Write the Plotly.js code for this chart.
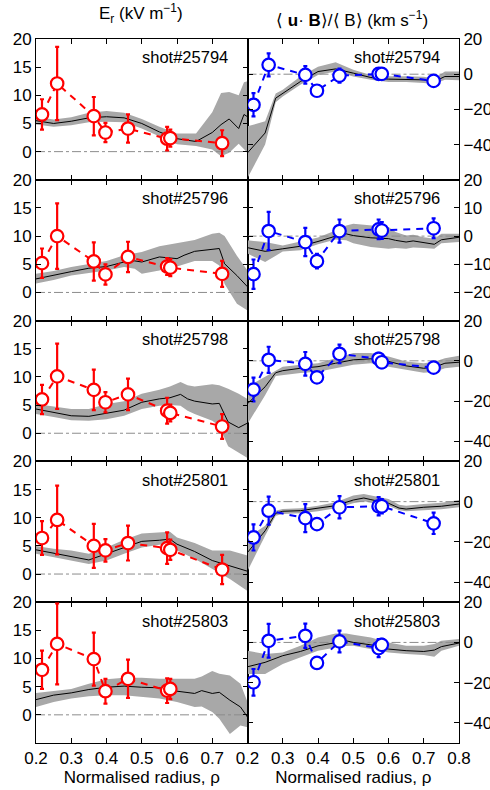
<!DOCTYPE html>
<html><head><meta charset="utf-8">
<script src="https://cdn.plot.ly/plotly-3.0.1.min.js"></script>
<style>html,body{margin:0;padding:0;background:#fff}</style>
</head><body><div id="chart" style="width:490px;height:790px"></div>
<script>
// ---- data ----
const shots = ['shot#25794','shot#25796','shot#25798','shot#25801','shot#25803'];
const pointX = [0.217, 0.26, 0.364, 0.397, 0.461, 0.572, 0.581, 0.728];

// Er measured points (kV/m)
const E1y = [6.6,12.1,6.3,3.4,4.1,2.3,2.4,1.5], E1e = [2.7,6.5,3.4,1.7,2.5,2.1,1.5,2.3];
const E2y = [5.2,10.0,5.5,3.2,6.3,4.6,4.4,3.3], E2e = [2.6,5.8,3.4,1.8,2.7,1.5,1.5,2.3];
const E3y = [6.0,10.1,7.7,5.5,6.9,4.0,3.6,1.2], E3e = [2.6,5.8,3.6,1.8,2.8,2.3,1.5,2.2];
const E4y = [6.4,9.6,5.0,4.2,5.5,4.6,4.3,0.8],  E4e = [3.0,6.1,3.9,2.0,3.1,2.8,1.8,2.6];
const E5y = [8.0,12.6,9.9,4.2,6.4,4.3,4.6],     E5e = [3.4,7.2,4.7,2.2,3.4,2.2,1.8];

// <u.B>/<B> measured points (km/s)
const U1y = [-17.4,5.3,-0.4,-9.4,-0.8,0.2,0.2,-3.8],   U1e = [6.6,6.5,5,2.5,4,3,3,3];
const U2y = [-13.5,1.8,-2.1,-8.9,1.8,2.4,2.0,2.8],     U2e = [5.2,6.8,5,2.6,4.1,3.5,3,3.5];
const U3y = [-14.3,0.5,-1.5,-8.2,3.5,1.0,-0.7,-3.4],   U3e = [5.9,6.5,5.9,2,4.6,3,3,2.5];
const U4y = [-17.8,-4.5,-8.2,-11.2,-2.8,-2.3,-2.3,-10.8], U4e = [6.5,7,7,2.5,5.5,4.5,3.5,5.3];
const U5y = [-19.8,0.8,3.3,-10.2,0.5,-2.8,-1.2],       U5e = [6.6,8.4,6,2.5,5.4,4.5,3];

// Er profiles: radius, mean, band low, band high
const E1x = [0.20,0.25,0.30,0.35,0.40,0.45,0.50,0.55,0.60,0.654,0.70,0.725,0.748,0.775,0.79,0.80];
const E1m = [5.5,5.0,5.4,6.0,6.2,6.0,5.0,3.5,2.3,1.8,3.4,4.8,5.8,4.1,6.6,6.2];
const E1lo = [4.8,4.4,4.7,5.2,5.3,5.2,4.1,2.7,1.3,1.0,0.4,-0.8,-0.2,1.4,0.5,-0.2];
const E1hi = [6.2,5.7,6.1,6.9,7.2,6.9,5.8,4.4,3.2,3.2,7.0,10.4,10.6,10.0,12.3,12.5];

const E2x = [0.20,0.25,0.30,0.35,0.40,0.45,0.48,0.50,0.55,0.60,0.62,0.65,0.70,0.72,0.735,0.77,0.80];
const E2m = [2.4,3.1,3.7,4.3,4.6,5.4,5.6,5.4,6.3,6.0,6.6,7.3,7.6,7.8,5.1,3.0,1.0];
const E2lo = [1.6,2.2,3.0,3.4,3.9,4.5,4.2,3.3,3.9,4.6,5.0,5.6,5.6,4.8,1.5,-2.0,-3.2];
const E2hi = [3.3,3.8,4.5,5.0,5.6,6.6,7.0,7.2,8.2,8.7,9.0,9.3,10.4,10.6,10.0,6.5,3.9];

const E3x = [0.20,0.25,0.30,0.35,0.40,0.45,0.50,0.55,0.58,0.61,0.63,0.65,0.70,0.72,0.745,0.775,0.80];
const E3m = [4.3,3.7,3.1,3.0,3.6,4.1,5.5,6.1,6.3,6.9,6.1,5.7,5.2,5.3,2.0,1.0,1.8];
const E3lo = [3.4,2.9,2.3,2.2,2.5,3.1,4.3,4.9,5.0,4.9,4.0,3.4,2.2,1.3,-2.3,-3.5,-4.4];
const E3hi = [5.2,4.7,4.3,4.3,5.2,5.7,7.0,7.7,8.3,9.1,8.5,8.3,8.7,8.5,7.9,7.0,6.1];

const E4x = [0.20,0.25,0.30,0.35,0.40,0.45,0.50,0.55,0.58,0.60,0.65,0.70,0.75,0.80];
const E4m = [4.3,3.7,3.1,2.5,3.6,4.7,5.8,6.0,6.2,5.3,4.0,2.4,1.5,0.5];
const E4lo = [3.6,3.0,2.4,1.8,2.4,3.6,4.7,5.2,5.4,4.2,2.7,0.9,-0.9,-3.0];
const E4hi = [5.0,4.5,4.2,3.6,4.7,6.1,7.2,7.4,7.5,6.5,5.5,4.2,4.2,3.3];

const E5x = [0.20,0.25,0.30,0.35,0.40,0.45,0.50,0.55,0.60,0.65,0.67,0.70,0.72,0.75,0.78,0.80];
const E5m = [2.7,3.5,3.9,4.5,4.9,5.1,4.9,4.8,4.2,3.8,4.3,3.8,4.0,2.6,1.4,-0.4];
const E5lo = [1.4,2.3,2.9,3.3,3.5,3.5,3.2,2.9,2.3,1.4,1.5,0.5,-0.7,-3.4,-1.9,-2.2];
const E5hi = [3.9,4.3,4.6,5.5,6.3,6.6,6.6,6.4,6.4,6.4,6.8,7.8,7.3,7.0,5.5,2.3];

// <u.B>/<B> profiles
const U1x = [0.20,0.25,0.28,0.30,0.35,0.40,0.45,0.50,0.55,0.60,0.65,0.70,0.73,0.76,0.80];
const U1m = [-44.7,-33.4,-13.6,-10.8,-4.2,1.5,3.0,0.6,-1.9,-2.8,-2.8,-3.2,-4.2,-1.3,-1.3];
const U1lo = [-59,-40,-16,-12.6,-6,-0.4,1.5,-1.3,-3.2,-4.5,-4.5,-5,-5.5,-3.2,-3.5];
const U1hi = [-29.6,-26.8,-11,-8.9,-1.3,4.3,6.8,2.5,-0.4,-1.2,-1.2,-1.5,-2.5,1.5,1.5];

const U2x = [0.20,0.25,0.30,0.35,0.40,0.45,0.48,0.50,0.55,0.60,0.62,0.65,0.67,0.70,0.73,0.75,0.80];
const U2m = [-4.1,-5.4,-4.5,-3.6,-1.9,0.0,0.8,0.2,-0.6,-0.9,-1.5,-2.1,-1.7,-2.4,-2.9,-1.3,-0.4];
const U2lo = [-6.2,-9.2,-5.5,-5.0,-2.9,-1.2,-1.5,-2.5,-3.9,-4.5,-4.2,-4.5,-4.0,-4.2,-4.5,-2.5,-2.1];
const U2hi = [-1.5,-2.1,-3.3,-2.0,-0.5,2.0,3.8,4.4,3.8,3.2,1.5,0.2,0.5,-0.4,-0.9,0.8,0.8];

const U3x = [0.20,0.25,0.28,0.30,0.35,0.40,0.45,0.50,0.55,0.60,0.65,0.70,0.73,0.76,0.80];
const U3m = [-21.3,-12.9,-5.9,-4.9,-3.7,-2.9,-1.2,0.5,1.0,-0.3,-2.5,-3.7,-3.2,-1.2,-0.7];
const U3lo = [-31.4,-17.1,-7.5,-7.1,-6.0,-5.4,-3.7,-2.0,-1.2,-2.9,-4.5,-5.9,-5.5,-3.7,-2.9];
const U3hi = [-12.9,-7.9,-5.0,-2.9,-2.0,-1.2,1.3,3.9,3.9,2.2,-0.3,-1.2,-0.5,1.3,2.5];

const U4x = [0.20,0.25,0.28,0.30,0.35,0.40,0.45,0.50,0.53,0.55,0.60,0.63,0.65,0.70,0.75,0.80];
const U4m = [-25.3,-14.5,-5.8,-4.8,-4.5,-3.3,-2.0,0.8,1.8,1.0,-0.8,-3.2,-3.7,-2.8,-2.3,-1.2];
const U4lo = [-34.5,-17.0,-7.0,-6.2,-5.8,-4.8,-3.3,-0.8,0.2,-0.6,-2.0,-4.3,-4.8,-4.2,-3.8,-2.8];
const U4hi = [-17.8,-12.0,-4.5,-3.7,-3.3,-2.0,-0.3,3.0,3.8,3.0,1.3,-1.5,-2.0,-1.2,-0.5,0.8];

const U5x = [0.20,0.25,0.30,0.35,0.40,0.45,0.48,0.50,0.55,0.60,0.65,0.70,0.73,0.75,0.80];
const U5m = [-12.1,-9.9,-6.6,-4.5,-1.7,0.0,0.8,0.0,-1.2,-3.3,-4.1,-4.5,-3.8,-2.1,-0.3];
const U5lo = [-15.7,-15.7,-10.7,-7.4,-4.1,-2.5,-1.8,-1.7,-3.3,-5.0,-5.8,-6.2,-7.1,-4.1,-1.7];
const U5hi = [-4.1,-5.8,-5.0,-1.7,2.5,4.5,4.5,3.8,2.5,0.0,-1.7,-1.7,-0.8,0.8,1.7];

const xTicksLeft = [0.2,0.3,0.4,0.5,0.6,0.7];
const xTicksRight = [0.2,0.3,0.4,0.5,0.6,0.7,0.8];
const erTicks = [0,5,10,15,20];
const ubTicks = [[20,0,-20,-40],[20,10,0,-10,-20],[20,0,-20,-40],[20,0,-20,-40],[20,0,-20,-40]];
const ubRanges = [[-60,20],[-30,20],[-50,20],[-50,20],[-50,20]];
const erRange = [-5,20];
const xRange = [0.2,0.8];

// ---- build ----
const panels = [
  {pts:E1y,err:E1e,px:E1x,m:E1m,lo:E1lo,hi:E1hi,col:'#ff0000'},
  {pts:U1y,err:U1e,px:U1x,m:U1m,lo:U1lo,hi:U1hi,col:'#0000ff'},
  {pts:E2y,err:E2e,px:E2x,m:E2m,lo:E2lo,hi:E2hi,col:'#ff0000'},
  {pts:U2y,err:U2e,px:U2x,m:U2m,lo:U2lo,hi:U2hi,col:'#0000ff'},
  {pts:E3y,err:E3e,px:E3x,m:E3m,lo:E3lo,hi:E3hi,col:'#ff0000'},
  {pts:U3y,err:U3e,px:U3x,m:U3m,lo:U3lo,hi:U3hi,col:'#0000ff'},
  {pts:E4y,err:E4e,px:E4x,m:E4m,lo:E4lo,hi:E4hi,col:'#ff0000'},
  {pts:U4y,err:U4e,px:U4x,m:U4m,lo:U4lo,hi:U4hi,col:'#0000ff'},
  {pts:E5y,err:E5e,px:E5x,m:E5m,lo:E5lo,hi:E5hi,col:'#ff0000'},
  {pts:U5y,err:U5e,px:U5x,m:U5m,lo:U5lo,hi:U5hi,col:'#0000ff'}
];
const FONT = 'Liberation Sans, Arial, sans-serif';
const traces = [];
const layout = {
  width:490, height:790,
  margin:{l:36,r:31,t:39,b:47},
  showlegend:false,
  paper_bgcolor:'#fff', plot_bgcolor:'#fff',
  font:{family:FONT,size:16,color:'#000'},
  annotations:[], shapes:[]
};
panels.forEach((p,i)=>{
  const r = Math.floor(i/2), c = i%2;
  const xa = 'x'+(i+1), ya = 'y'+(i+1);
  const xk = 'xaxis'+(i+1), yk = 'yaxis'+(i+1);
  traces.push({x:p.px.concat(p.px.slice().reverse()), y:p.hi.concat(p.lo.slice().reverse()),
    xaxis:xa, yaxis:ya, type:'scatter', mode:'lines', fill:'toself',
    fillcolor:'rgb(168,168,168)', line:{width:0,color:'rgba(0,0,0,0)'}, hoverinfo:'skip'});
  traces.push({x:xRange, y:[0,0], xaxis:xa, yaxis:ya, type:'scatter', mode:'lines',
    line:{color:'rgb(140,140,140)',width:1,dash:'dashdot'}, hoverinfo:'skip'});
  traces.push({x:p.px, y:p.m, xaxis:xa, yaxis:ya, type:'scatter', mode:'lines',
    line:{color:'#000',width:1}});
  const n = p.pts.length;
  traces.push({x:pointX.slice(0,n), y:p.pts, xaxis:xa, yaxis:ya, type:'scatter', mode:'lines+markers',
    line:{color:p.col,width:2,dash:'7px,6px'},
    marker:{symbol:'circle',size:12.5,color:'#fff',line:{color:p.col,width:2.2}},
    error_y:{type:'data',array:p.err,visible:true,color:p.col,thickness:2.2,width:2}});
  const lastRow = r===4;
  const xa_obj = {
    domain: c===0 ? [0,0.5] : [0.5,1], anchor: ya, range:xRange,
    tickvals: c===0 ? xTicksLeft : xTicksRight,
    showticklabels:lastRow, ticks:'inside', ticklen:5, tickcolor:'#000',
    showline:true, linecolor:'#000', linewidth:1, mirror:'ticks',
    showgrid:false, zeroline:false,
    tickfont:{size:17,family:FONT}
  };
  if (lastRow) xa_obj.title = {text:'Normalised radius, ρ', font:{size:17,family:FONT}, standoff:1};
  layout[xk] = xa_obj;
  layout[yk] = {
    domain:[1-(r+1)/5, 1-r/5], anchor:xa,
    range: c===0 ? erRange : ubRanges[r],
    tickvals: c===0 ? erTicks : ubTicks[r],
    side: c===0 ? 'left' : 'right',
    ticks:'inside', ticklen:5, tickcolor:'#000',
    showline:true, linecolor:'#000', linewidth:1, mirror:'ticks',
    showgrid:false, zeroline:false,
    tickfont:{size:17,family:FONT}
  };
  layout.annotations.push({text:shots[r], xref:xa+' domain', yref:ya+' domain',
    x:0.918, y:0.87, xanchor:'right', yanchor:'middle', showarrow:false,
    font:{size:16.5,family:FONT}});
});
layout.annotations.push({text:'E<sub>r</sub> (kV m<sup>−1</sup>)', xref:'paper', yref:'paper',
  x:0.248, y:1.0, yshift:26, xanchor:'center', yanchor:'middle', showarrow:false, font:{size:17,family:FONT}});
layout.annotations.push({text:'⟨ <b>u</b>· <b>B</b>⟩/⟨ B⟩ (km s<sup>−1</sup>)', xref:'paper', yref:'paper',
  x:0.746, y:1.0, yshift:20, xanchor:'center', yanchor:'middle', showarrow:false, font:{size:17,family:FONT}});

Plotly.newPlot('chart', traces, layout, {displayModeBar:false, staticPlot:true});
</script></body></html>
